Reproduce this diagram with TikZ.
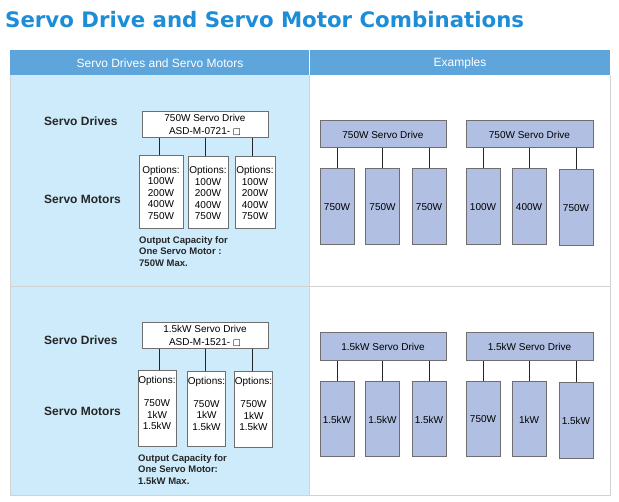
\documentclass[tikz,border=0pt]{standalone}
\usepackage{fontspec}
\setmainfont{Liberation Sans}
\newfontfamily\titlefont{DejaVu Sans}
\definecolor{titleblue}{RGB}{28,141,214}
\definecolor{hdrblue}{RGB}{93,165,219}
\definecolor{cellblue}{RGB}{205,235,251}
\definecolor{peri}{RGB}{176,191,226}
\definecolor{boxgray}{RGB}{110,110,110}
\definecolor{gridgray}{RGB}{210,210,210}
\tikzset{
  optbox/.style={draw=boxgray, line width=1pt, fill=white, inner sep=0pt, align=center,
    font=\fontsize{10}{11.5}\selectfont},
  drvbox/.style={draw=boxgray, line width=1pt, fill=white, inner sep=0pt, align=center,
    minimum width=126pt, minimum height=26pt, font=\fontsize{10}{13}\selectfont},
  exdrv/.style={draw=boxgray, line width=1pt, fill=peri, inner sep=0pt,
    minimum width=126pt, minimum height=27pt, font=\fontsize{10}{12}\selectfont},
  exmot/.style={draw=boxgray, line width=1pt, fill=peri, inner sep=0pt,
    minimum width=34pt, minimum height=76pt, font=\fontsize{10}{12}\selectfont},
  link/.style={draw=black!85, line width=1pt},
  rowlabel/.style={anchor=west, inner sep=0pt, font=\bfseries\fontsize{12}{14}\selectfont, text=black!85},
  note/.style={anchor=north west, inner sep=0pt, align=left, font=\bfseries\fontsize{9.5}{11.5}\selectfont, text=black!85},
  hdr/.style={text=white, inner sep=0pt, font=\fontsize{12}{14}\selectfont},
}
\begin{document}
\begin{tikzpicture}[x=1pt,y=-1pt]
\useasboundingbox (0,0) rectangle (619,502);
\fill[white] (0,0) rectangle (619,502);
% title
\node[anchor=base west, inner sep=0pt, text=titleblue,
  font=\titlefont\bfseries\fontsize{21.3}{24}\selectfont] (title) at (5,27.5)
  {Servo Drive and Servo Motor Combinations};
% table
\fill[hdrblue] (10,50) rectangle (610,75);
\draw[white, line width=1.2pt] (309.5,50) -- (309.5,75);
\fill[cellblue] (10,75) rectangle (309,286);
\fill[cellblue] (10,287) rectangle (309,496);
\draw[gridgray, line width=1pt] (10,75) -- (10,496) -- (610,496) -- (610,75);
\draw[gridgray, line width=1pt] (309.5,75) -- (309.5,496);
\draw[gridgray, line width=1pt] (10,286.5) -- (610,286.5);
\node[hdr] (h1) at (160,63) {Servo Drives and Servo Motors};
\node[hdr] (h2) at (460,63) {Examples};

% ---------- row 1 left
\node[rowlabel] (sd1) at (44,121) {Servo Drives};
\node[rowlabel] (sm1) at (44,199) {Servo Motors};
\node[drvbox] (d1) at (205,125) {750W Servo Drive\\ASD-M-0721- \titlefont\fontsize{8.5}{9}\selectfont □};
\node[optbox, minimum width=44pt, minimum height=73pt] (o1) at (161,192.5) {Options:\\100W\\200W\\400W\\750W};
\node[optbox, minimum width=40pt, minimum height=72pt] (o2) at (208,193) {Options:\\100W\\200W\\400W\\750W};
\node[optbox, minimum width=40pt, minimum height=72pt] (o3) at (255,193) {Options:\\100W\\200W\\400W\\750W};
\draw[link] ([xshift=-2pt]o1.north) -- ([xshift=-2pt]o1.north |- d1.south);
\draw[link] ([xshift=-3pt]o2.north) -- ([xshift=-3pt]o2.north |- d1.south);
\draw[link] ([xshift=-3pt]o3.north) -- ([xshift=-3pt]o3.north |- d1.south);
\node[note] (n1) at (139,236) {Output Capacity for\\One Servo Motor :\\750W Max.};

% ---------- row 2 left
\node[rowlabel] (sd2) at (44,340) {Servo Drives};
\node[rowlabel] (sm2) at (44,411) {Servo Motors};
\node[drvbox] (d2) at (205,336) {1.5kW Servo Drive\\ASD-M-1521- \titlefont\fontsize{8.5}{9}\selectfont □};
\node[optbox, minimum width=38pt, minimum height=76pt] (p1) at (157,409) {Options:\\[11.5pt]750W\\1kW\\1.5kW\\ };
\node[optbox, minimum width=37pt, minimum height=75pt] (p2) at (206.5,409.5) {Options:\\[11.5pt]750W\\1kW\\1.5kW\\ };
\node[optbox, minimum width=37pt, minimum height=76pt] (p3) at (253.5,410) {Options:\\[11.5pt]750W\\1kW\\1.5kW\\ };
\draw[link] ([xshift=2pt]p1.north) -- ([xshift=2pt]p1.north |- d2.south);
\draw[link] ([xshift=-1.5pt]p2.north) -- ([xshift=-1.5pt]p2.north |- d2.south);
\draw[link] ([xshift=-1.5pt]p3.north) -- ([xshift=-1.5pt]p3.north |- d2.south);
\node[note] (n2) at (138,454) {Output Capacity for\\One Servo Motor:\\1.5kW Max.};

% ---------- row 1 right
\node[exdrv] (e1) at (383,134.5) {750W Servo Drive};
\node[exdrv, minimum width=127pt] (e2) at (529.5,134.5) {750W Servo Drive};
\node[exmot] (m1) at (337,207) {750W};
\node[exmot] (m2) at (382.5,207) {750W};
\node[exmot] (m3) at (429,207) {750W};
\node[exmot] (m4) at (483,207) {100W};
\node[exmot] (m5) at (529,207) {400W};
\node[exmot] (m6) at (576,208) {750W};
\foreach \m in {m1,m2,m3} \draw[link] (\m.north) -- (\m.north |- e1.south);
\foreach \m in {m4,m5,m6} \draw[link] (\m.north) -- (\m.north |- e2.south);

% ---------- row 2 right
\node[exdrv, minimum height=28pt] (f1) at (383,347) {1.5kW Servo Drive};
\node[exdrv, minimum width=127pt, minimum height=28pt] (f2) at (529.5,347) {1.5kW Servo Drive};
\node[exmot, minimum height=75pt] (q1) at (337,419.5) {1.5kW};
\node[exmot, minimum height=75pt] (q2) at (382.5,419.5) {1.5kW};
\node[exmot, minimum height=75pt] (q3) at (429,419.5) {1.5kW};
\node[exmot, minimum height=75pt] (q4) at (483,419.5) {750W};
\node[exmot, minimum height=75pt] (q5) at (529,419.5) {1kW};
\node[exmot] (q6) at (576,421) {1.5kW};
\foreach \m in {q1,q2,q3} \draw[link] (\m.north) -- (\m.north |- f1.south);
\foreach \m in {q4,q5,q6} \draw[link] (\m.north) -- (\m.north |- f2.south);
\end{tikzpicture}
\end{document}
